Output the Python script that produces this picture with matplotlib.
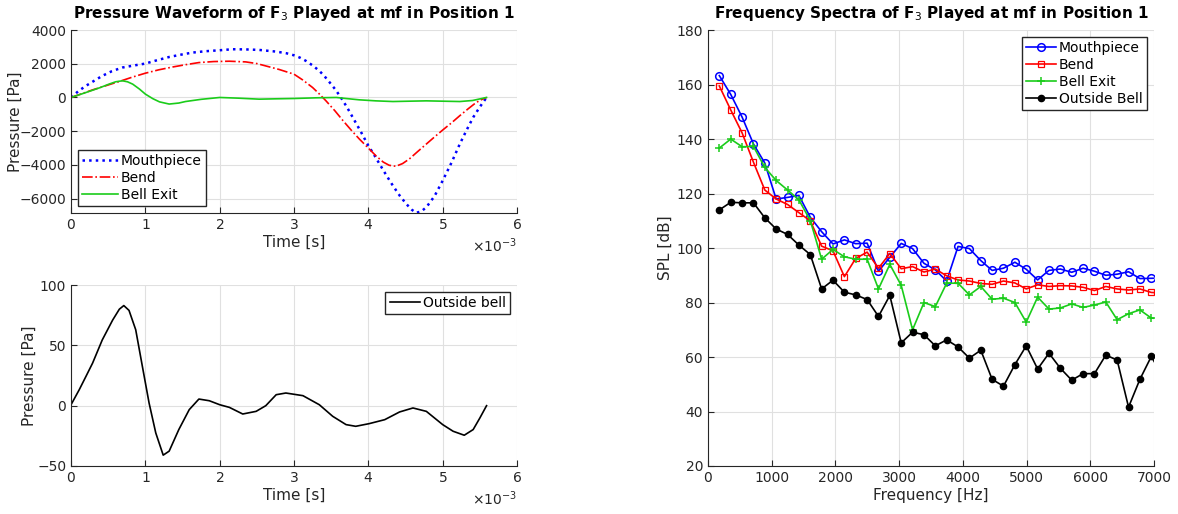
import matplotlib.pyplot as plt
from matplotlib.ticker import ScalarFormatter

plt.rcParams['font.family'] = ['DejaVu Sans']

# Pressure waveforms over one period (time in ms, pressure in Pa)
t_mouth = [0, 0.1, 0.2, 0.3, 0.42, 0.55, 0.69, 0.85, 1.0, 1.15, 1.32, 1.48, 1.63, 1.8, 2.0, 2.17,
           2.35, 2.53, 2.76, 2.9, 3.0, 3.08, 3.16, 3.25, 3.34, 3.41, 3.48, 3.56, 3.63, 3.71, 3.79,
           3.9, 4.0, 4.08, 4.15, 4.24, 4.33, 4.42, 4.51, 4.58, 4.64, 4.71, 4.78, 4.89, 5.0, 5.12,
           5.23, 5.32, 5.41, 5.5, 5.59]
p_mouth = [0, 380, 690, 960, 1280, 1560, 1775, 1900, 2010, 2200, 2400, 2540, 2660, 2740, 2800, 2860,
           2850, 2820, 2720, 2620, 2500, 2360, 2170, 1900, 1580, 1260, 890, 450, 0, -560, -1180,
           -2040, -2860, -3420, -3940, -4600, -5230, -5810, -6310, -6640, -6840, -6760, -6510, -5850,
           -4930, -3850, -2760, -1950, -1180, -560, 0]

t_bend = [0, 0.15, 0.29, 0.47, 0.65, 0.82, 1.0, 1.18, 1.37, 1.55, 1.72, 1.92, 2.13, 2.35, 2.5,
          2.62, 2.8, 3.0, 3.12, 3.25, 3.34, 3.43, 3.55, 3.66, 3.77, 3.88, 4.0, 4.1, 4.2, 4.28,
          4.37, 4.46, 4.55, 4.66, 4.78, 4.89, 5.0, 5.12, 5.23, 5.34, 5.45, 5.52, 5.59]
p_bend = [0, 230, 450, 700, 950, 1200, 1440, 1640, 1810, 1950, 2070, 2130, 2150, 2110, 2010,
          1870, 1660, 1380, 1030, 590, 210, -200, -790, -1380, -1940, -2470, -3000, -3450, -3830, -4020,
          -4080, -3920, -3650, -3220, -2760, -2340, -1930, -1500, -1080, -680, -300, -130, 0]

t_exit = [0, 0.15, 0.29, 0.4, 0.51, 0.6, 0.69, 0.76, 0.83, 0.92, 1.0, 1.1, 1.19, 1.32, 1.45, 1.54,
          1.75, 2.0, 2.25, 2.53, 2.75, 3.0, 3.3, 3.57, 3.72, 3.88, 4.1, 4.33, 4.55, 4.78, 5.0,
          5.23, 5.4, 5.59]
p_exit = [0, 220, 430, 600, 790, 930, 990, 930, 790, 500, 200, -70, -260, -390, -330, -240,
          -110, 0, -40, -100, -80, -60, -20, 0, -70, -140, -200, -240, -220, -200, -220,
          -240, -180, 0]

t_out = [0, 0.11, 0.2, 0.29, 0.42, 0.56, 0.65, 0.71, 0.78, 0.87, 0.96, 1.05, 1.14, 1.24, 1.32,
         1.45, 1.59, 1.72, 1.86, 2.0, 2.13, 2.31, 2.49, 2.62, 2.76, 2.89, 3.12, 3.34, 3.52, 3.7,
         3.83, 4.01, 4.22, 4.42, 4.6, 4.78, 5.0, 5.14, 5.29, 5.41, 5.5, 5.59]
p_out = [0.8, 13.2, 24.2, 35.3, 54.5, 71, 80, 83, 79, 63, 32.5, 2.2, -22.6, -41, -37.7,
         -19.8, -3.3, 5.5, 4.1, 0.8, -1.4, -6.9, -4.7, 0, 9.1, 10.5, 8.3, 0.8, -8.8, -15.7,
         -17.1, -14.9, -11.6, -5.2, -1.9, -4.7, -15.7, -21.2, -24.5, -19.8, -10.2, 0]

# Harmonic spectra (frequency in Hz, SPL in dB)
freq = [178, 357, 535, 714, 892, 1070, 1249, 1427, 1606, 1784, 1962, 2141, 2319, 2498, 2676,
        2854, 3033, 3211, 3390, 3568, 3746, 3925, 4103, 4282, 4460, 4638, 4817, 4995, 5174, 5352,
        5530, 5709, 5887, 6066, 6244, 6422, 6601, 6779, 6958, 7136]
spl_mouth = [163.3, 156.4, 148.1, 138.2, 131.2, 118.0, 118.6, 119.3, 111.3, 106.0, 101.5, 103.0,
             101.6, 101.8, 91.5, 96.6, 101.7, 99.8, 94.4, 92.0, 87.9, 100.6, 99.8, 95.4, 91.8,
             92.6, 94.8, 92.2, 88.3, 91.8, 92.3, 91.1, 92.6, 91.5, 90.0, 90.4, 91.3, 88.8, 88.9, 89.0]
spl_bend = [159.5, 150.7, 142.3, 131.5, 121.3, 118.0, 116.0, 113.0, 110.0, 100.7, 99.0, 89.5,
            96.2, 98.5, 92.6, 98.0, 92.4, 93.2, 91.2, 92.3, 89.8, 88.3, 87.9, 87.0, 86.7,
            87.9, 87.2, 85.0, 86.5, 85.9, 86.2, 86.1, 85.6, 84.4, 85.9, 85.0, 84.6, 85.0, 83.7, 83.5]
spl_exit = [136.7, 140.0, 137.2, 137.3, 129.6, 124.8, 121.3, 117.7, 110.1, 95.9, 99.5, 96.8,
            95.9, 95.9, 85.0, 94.0, 86.3, 70.0, 80.0, 78.5, 87.1, 87.1, 82.8, 85.9, 81.2,
            81.6, 80.0, 72.8, 82.0, 77.6, 78.0, 79.5, 78.2, 79.1, 80.2, 73.7, 75.9, 77.3, 74.3, 74.0]
spl_out = [114.0, 116.8, 116.6, 116.6, 111.1, 107.0, 105.0, 101.1, 97.6, 85.0, 88.2, 83.8,
           82.8, 81.1, 74.9, 82.6, 65.2, 69.1, 68.2, 64.1, 66.3, 63.7, 59.6, 62.5, 51.8,
           49.3, 57.2, 64.1, 55.6, 61.4, 55.9, 51.5, 53.9, 53.9, 60.7, 58.9, 41.6, 51.8, 60.2, 53.0]

blue = (0, 0, 1)
red = (1, 0, 0)
green = (0.1, 0.8, 0.1)
axcol = (0.15, 0.15, 0.15)


def style_axes(ax):
    ax.grid(True, color=(0.88, 0.88, 0.88), linewidth=0.8)
    ax.set_axisbelow(True)
    for s in ['top', 'right']:
        ax.spines[s].set_visible(False)
    for s in ['left', 'bottom']:
        ax.spines[s].set_color(axcol)
    ax.tick_params(colors=axcol, labelsize=10, direction='in', length=4)


fig = plt.figure(figsize=(11.78, 5.14), dpi=100)
ax1 = fig.add_axes([0.0603, 0.5856, 0.3786, 0.356])
ax2 = fig.add_axes([0.0603, 0.0934, 0.3786, 0.352])
ax3 = fig.add_axes([0.601, 0.0934, 0.3786, 0.848])

ms = 1e-3

# top-left: waveforms inside the instrument
ax1.plot([t * ms for t in t_mouth], p_mouth, ':', color=blue, lw=1.8, label='Mouthpiece')
ax1.plot([t * ms for t in t_bend], p_bend, '-.', color=red, lw=1.2, label='Bend')
ax1.plot([t * ms for t in t_exit], p_exit, '-', color=green, lw=1.2, label='Bell Exit')
ax1.set_xlim(0, 6e-3)
ax1.set_ylim(-6850, 4000)
ax1.set_yticks([-6000, -4000, -2000, 0, 2000, 4000])
ax1.set_xlabel('Time [s]', fontsize=11, color=axcol, labelpad=2)
ax1.set_ylabel('Pressure [Pa]', fontsize=11, color=axcol)
ax1.yaxis.set_label_coords(-0.108, 0.5)
ax1.set_title('Pressure Waveform of F$_3$ Played at mf in Position 1', fontsize=11,
              fontweight='bold', pad=9)
leg = ax1.legend(loc='lower left', fontsize=10, fancybox=False, framealpha=1,
                 edgecolor=axcol, handlelength=2.6, handletextpad=0.2, borderpad=0.3,
                 labelspacing=0.2)

# bottom-left: outside the bell
ax2.plot([t * ms for t in t_out], p_out, '-', color='k', lw=1.2, label='Outside bell')
ax2.set_xlim(0, 6e-3)
ax2.set_ylim(-50, 100)
ax2.set_yticks([-50, 0, 50, 100])
ax2.set_xlabel('Time [s]', fontsize=11, color=axcol, labelpad=2)
ax2.set_ylabel('Pressure [Pa]', fontsize=11, color=axcol)
ax2.yaxis.set_label_coords(-0.076, 0.5)
ax2.legend(loc='upper right', fontsize=10, fancybox=False, framealpha=1,
           edgecolor=axcol, handlelength=2.2, handletextpad=0.2, borderpad=0.3)

for ax in (ax1, ax2):
    fmt = ScalarFormatter(useMathText=True)
    fmt.set_powerlimits((-2, 2))
    ax.xaxis.set_major_formatter(fmt)
    ax.xaxis.get_offset_text().set_color(axcol)
    ax.xaxis.get_offset_text().set_fontsize(10)
    style_axes(ax)

# right: spectra
ax3.plot(freq, spl_mouth, '-o', color=blue, lw=1.2, ms=5.5, mfc='none', mew=1.1, label='Mouthpiece')
ax3.plot(freq, spl_bend, '-s', color=red, lw=1.2, ms=4.5, mfc='none', mew=0.9, label='Bend')
ax3.plot(freq, spl_exit, '-+', color=green, lw=1.2, ms=6, mew=1.1, label='Bell Exit')
ax3.plot(freq, spl_out, linestyle='-', marker='.', color='k', lw=1.2, ms=9, label='Outside Bell')
ax3.set_xlim(0, 7000)
ax3.set_ylim(20, 180)
ax3.set_yticks(range(20, 181, 20))
ax3.set_xlabel('Frequency [Hz]', fontsize=11, color=axcol, labelpad=2)
ax3.set_ylabel('SPL [dB]', fontsize=11, color=axcol)
ax3.yaxis.set_label_coords(-0.078, 0.5)
ax3.set_title('Frequency Spectra of F$_3$ Played at mf in Position 1', fontsize=11,
              fontweight='bold', pad=9)
ax3.legend(loc='upper right', fontsize=10, fancybox=False, framealpha=1,
           edgecolor=axcol, handlelength=2.2, handletextpad=0.2, borderpad=0.3,
           labelspacing=0.2)
style_axes(ax3)

fig.savefig('out.png', dpi=100)
